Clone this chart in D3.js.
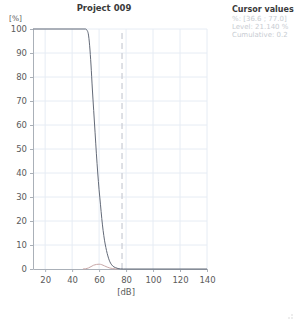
<!DOCTYPE html>
<html>
<head>
<meta charset="utf-8">
<script src="https://cdn.jsdelivr.net/npm/d3@7"></script>
<style>
  body { margin: 0; background: #fff; }
  svg { display: block; font-family: "DejaVu Sans", Verdana, sans-serif; }
</style>
</head>
<body>
<div id="chart"></div>
<script>
// Kurvenwerte (dB -> %)
var levels     = [11, 50, 51, 52, 53, 54, 55, 56, 57, 58, 59, 60, 61, 62, 63, 64, 65, 66, 67, 68, 69, 70, 72, 74, 76, 78, 140];
var cumulative = [100, 100, 99.5, 98, 93, 85, 75, 66, 57, 48, 40, 33, 27, 21, 16, 12, 9, 6.5, 4.5, 3, 2, 1.3, 0.6, 0.2, 0.05, 0, 0];
var distLevels = [48, 50, 52, 54, 56, 58, 60, 62, 64, 66, 68, 70, 72, 74];
var distValues = [0, 0.1, 0.4, 1.0, 1.6, 1.9, 2.0, 1.8, 1.3, 0.8, 0.4, 0.2, 0.05, 0];
var xTicks = [20, 40, 60, 80, 100, 120, 140];
var yTicks = [0, 10, 20, 30, 40, 50, 60, 70, 80, 90, 100];
var cursorLevel = 77;
var cursorLines = ["%: [36.6 ; 77.0]", "Level: 21.140 %", "Cumulative: 0.2"];

var W = 299, H = 327;
var svg = d3.select("#chart").append("svg")
    .attr("width", W).attr("height", H);

var x = d3.scaleLinear().domain([11, 140]).range([33, 207]);
var y = d3.scaleLinear().domain([0, 100]).range([269, 29]);

// Gitter
svg.append("g").selectAll("line")
    .data(yTicks.slice(1))
    .enter().append("line")
    .attr("x1", x(11)).attr("x2", x(140))
    .attr("y1", d => y(d)).attr("y2", d => y(d))
    .style("stroke", "#e6ecf4").style("stroke-width", 1);

svg.append("g").selectAll("line")
    .data(xTicks)
    .enter().append("line")
    .attr("x1", d => x(d)).attr("x2", d => x(d))
    .attr("y1", y(0)).attr("y2", y(100))
    .style("stroke", "#e6ecf4").style("stroke-width", 1);

// Cursor-Linie
svg.append("line")
    .attr("x1", x(cursorLevel)).attr("x2", x(cursorLevel))
    .attr("y1", y(0)).attr("y2", y(100))
    .style("stroke", "#c8ccd4").style("stroke-width", 1.2)
    .style("stroke-dasharray", "6,4");

// Achsen
var xAxis = svg.append("g")
    .attr("transform", "translate(0," + y(0) + ")")
    .call(d3.axisBottom(x).tickValues(xTicks).tickSize(3).tickSizeOuter(0));
var yAxis = svg.append("g")
    .attr("transform", "translate(" + x(11) + ",0)")
    .call(d3.axisLeft(y).tickValues(yTicks).tickSize(3).tickSizeOuter(0));

[xAxis, yAxis].forEach(function(a) {
    a.select(".domain").style("stroke", "#aab0b8");
    a.selectAll(".tick line").style("stroke", "#aab0b8");
    a.selectAll("text")
        .style("font-size", "8.5px")
        .style("fill", "#5a5a5a")
        .style("font-family", "DejaVu Sans, Verdana, sans-serif");
});
xAxis.selectAll("text").attr("dy", "0.9em");

// Verteilung (kleiner Buckel)
var distLine = d3.line()
    .x((d, i) => x(distLevels[i]))
    .y(d => y(d))
    .curve(d3.curveMonotoneX);
svg.append("path")
    .datum(distValues)
    .attr("d", distLine)
    .style("fill", "none")
    .style("stroke", "#c8a8a8")
    .style("stroke-width", 1);

// Summenkurve
var cumLine = d3.line()
    .x((d, i) => x(levels[i]))
    .y(d => y(d))
    .curve(d3.curveMonotoneX);
svg.append("path")
    .datum(cumulative)
    .attr("d", cumLine)
    .style("fill", "none")
    .style("stroke", "#636a78")
    .style("stroke-width", 1);

// Beschriftungen
svg.append("text")
    .attr("x", 104).attr("y", 11)
    .attr("text-anchor", "middle")
    .style("font-size", "8.5px").style("font-weight", "bold").style("fill", "#3a3a3a")
    .text("Project 009");

svg.append("text")
    .attr("x", 9).attr("y", 21)
    .style("font-size", "7.5px").style("fill", "#5a5a5a")
    .text("[%]");

svg.append("text")
    .attr("x", x(80)).attr("y", 295)
    .attr("text-anchor", "middle")
    .style("font-size", "8.5px").style("fill", "#5a5a5a")
    .text("[dB]");

// Cursor-Werte rechts
svg.append("text")
    .attr("x", 232).attr("y", 12)
    .style("font-size", "8px").style("font-weight", "bold").style("fill", "#3a3a3a")
    .text("Cursor values");

svg.append("g").selectAll("text")
    .data(cursorLines)
    .enter().append("text")
    .attr("x", 232)
    .attr("y", (d, i) => 21 + i * 8)
    .style("font-size", "7px").style("fill", "#c8ccd2")
    .text(d => d);

// Griff unten rechts
svg.append("g").selectAll("circle")
    .data([[292, 318], [289, 318], [292, 315]])
    .enter().append("circle")
    .attr("cx", d => d[0]).attr("cy", d => d[1]).attr("r", 0.7)
    .style("fill", "#ccc");
</script>
</body>
</html>
